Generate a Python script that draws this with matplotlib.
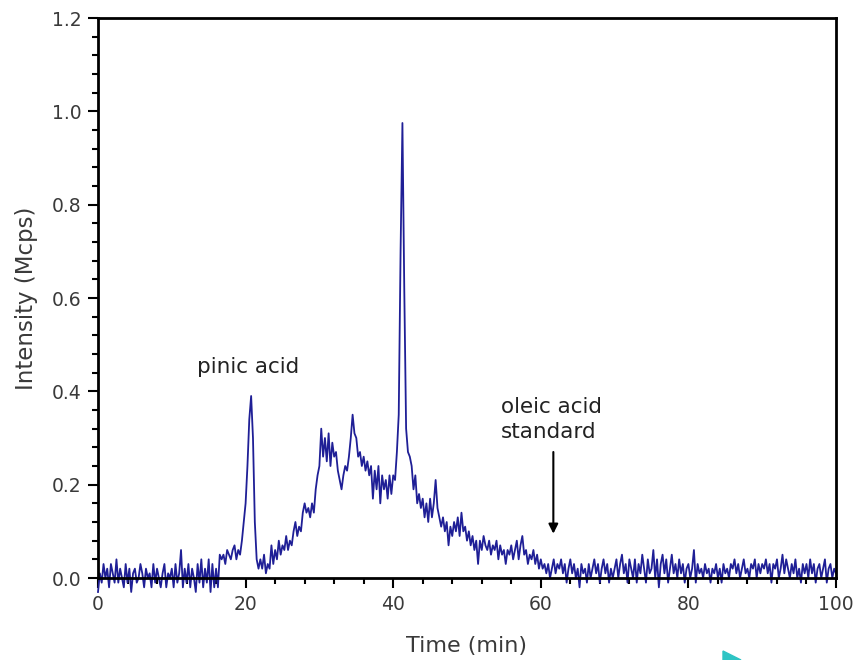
import numpy as np
import matplotlib
matplotlib.use("Agg")
import matplotlib.pyplot as plt
from matplotlib.ticker import AutoMinorLocator
from matplotlib.patches import Polygon

# ---------------------------------------------------------------------------
# Data (read off the chromatogram, sampled every 0.25 min)
# ---------------------------------------------------------------------------
time_step = 0.25

seg_00_10 = [-0.03, 0.01, -0.01, 0.03, 0.00, 0.02, -0.02, 0.03, 0.01, -0.01,
             0.04, -0.01, 0.02, 0.00, -0.02, 0.03, -0.01, 0.02, -0.03, 0.01,
             0.02, -0.01, 0.00, 0.03, 0.01, -0.02, 0.02, 0.00, 0.01, -0.02,
             0.03, -0.01, 0.02, 0.00, -0.02, 0.01, 0.03, -0.02, 0.01, 0.00]
seg_10_20 = [0.02, -0.02, 0.03, -0.01, 0.01, 0.06, -0.02, 0.02, -0.01, 0.03,
             -0.02, 0.02, 0.00, -0.03, 0.03, -0.01, 0.04, -0.02, 0.02, -0.01,
             0.04, -0.03, 0.03, -0.02, 0.02, -0.02, 0.05, 0.04, 0.05, 0.03,
             0.06, 0.05, 0.04, 0.06, 0.07, 0.04, 0.06, 0.05, 0.08, 0.12]
seg_20_30 = [0.16, 0.24, 0.34, 0.39, 0.30, 0.12, 0.04, 0.02, 0.04, 0.02,
             0.05, 0.01, 0.03, 0.02, 0.07, 0.03, 0.06, 0.04, 0.08, 0.05,
             0.07, 0.06, 0.09, 0.06, 0.08, 0.07, 0.10, 0.12, 0.09, 0.11,
             0.10, 0.14, 0.16, 0.14, 0.15, 0.13, 0.16, 0.14, 0.19, 0.22]
seg_30_40 = [0.24, 0.32, 0.26, 0.30, 0.25, 0.31, 0.24, 0.29, 0.26, 0.27,
             0.23, 0.21, 0.19, 0.22, 0.24, 0.23, 0.26, 0.30, 0.35, 0.31,
             0.30, 0.26, 0.27, 0.24, 0.26, 0.23, 0.25, 0.22, 0.24, 0.17,
             0.23, 0.19, 0.24, 0.16, 0.22, 0.19, 0.21, 0.17, 0.22, 0.18]
seg_40_50 = [0.22, 0.21, 0.27, 0.35, 0.70, 0.975, 0.62, 0.32, 0.27, 0.26,
             0.24, 0.19, 0.22, 0.16, 0.18, 0.15, 0.17, 0.13, 0.16, 0.12,
             0.17, 0.13, 0.16, 0.21, 0.15, 0.13, 0.11, 0.13, 0.10, 0.12,
             0.07, 0.11, 0.09, 0.12, 0.10, 0.13, 0.09, 0.14, 0.10, 0.11]
seg_50_60 = [0.08, 0.10, 0.07, 0.09, 0.06, 0.08, 0.03, 0.08, 0.06, 0.09,
             0.07, 0.06, 0.08, 0.05, 0.07, 0.06, 0.08, 0.04, 0.07, 0.05,
             0.06, 0.03, 0.06, 0.05, 0.07, 0.04, 0.06, 0.08, 0.04, 0.07,
             0.09, 0.05, 0.06, 0.03, 0.05, 0.04, 0.06, 0.03, 0.05, 0.02]
seg_60_70 = [0.04, 0.02, 0.03, 0.01, 0.03, 0.00, 0.02, 0.04, 0.01, 0.03,
             0.02, 0.04, 0.01, 0.03, -0.01, 0.02, 0.04, 0.01, 0.03, 0.00,
             0.02, -0.02, 0.03, 0.01, 0.02, -0.01, 0.03, 0.00, 0.02, 0.04,
             0.01, 0.03, -0.01, 0.02, 0.04, 0.01, 0.03, -0.01, 0.02, 0.00]
seg_70_80 = [0.02, 0.04, 0.00, 0.03, 0.05, 0.01, 0.03, -0.01, 0.04, 0.02,
             0.00, 0.04, -0.01, 0.03, 0.01, 0.05, 0.02, -0.01, 0.04, 0.01,
             0.02, 0.06, 0.00, 0.04, -0.02, 0.03, 0.05, 0.01, 0.04, -0.01,
             0.02, 0.05, 0.01, 0.03, 0.00, 0.04, 0.01, 0.03, -0.01, 0.02]
seg_80_90 = [0.03, 0.00, 0.02, 0.06, -0.01, 0.03, 0.01, 0.02, 0.00, 0.03,
             0.01, 0.02, -0.01, 0.02, 0.01, 0.03, 0.00, 0.02, -0.01, 0.03,
             0.01, 0.02, 0.00, 0.03, 0.02, 0.04, 0.01, 0.03, 0.00, 0.02,
             0.04, 0.01, 0.02, 0.00, 0.03, 0.02, 0.04, 0.00, 0.03, 0.01]
seg_90_100 = [0.03, 0.02, 0.04, 0.01, 0.03, -0.01, 0.03, 0.02, 0.04, 0.00,
              0.02, 0.05, 0.01, 0.04, 0.02, 0.00, 0.03, 0.01, 0.04, 0.00,
              0.02, -0.01, 0.03, 0.01, 0.03, 0.00, 0.04, 0.01, 0.03, -0.01,
              0.02, 0.03, 0.00, 0.02, 0.04, -0.01, 0.02, 0.03, 0.00, 0.02,
              0.01]

intensity = np.array(seg_00_10 + seg_10_20 + seg_20_30 + seg_30_40 + seg_40_50
                     + seg_50_60 + seg_60_70 + seg_70_80 + seg_80_90 + seg_90_100)
time_min = np.arange(len(intensity)) * time_step

x_ticks = [0, 20, 40, 60, 80, 100]
y_ticks = [0.0, 0.2, 0.4, 0.6, 0.8, 1.0, 1.2]

# ---------------------------------------------------------------------------
# Figure
# ---------------------------------------------------------------------------
W, H = 857, 660
fig = plt.figure(figsize=(W / 100, H / 100), dpi=100)
ax = fig.add_axes([98 / W, 1 - 578 / H, (836 - 98) / W, (578 - 18) / H])

ax.plot(time_min, intensity, color="#1f1f96", lw=1.3, clip_on=False)

ax.set_xlim(0, 100)
ax.set_ylim(0, 1.2)
ax.set_xticks(x_ticks)
ax.set_yticks(y_ticks)
ax.set_yticklabels([f"{v:.1f}" for v in y_ticks])
ax.xaxis.set_minor_locator(AutoMinorLocator(5))
ax.yaxis.set_minor_locator(AutoMinorLocator(5))

label_col = "#3a3a3a"
ax.tick_params(which="both", direction="out", width=1.5, colors="black",
               labelcolor=label_col, labelsize=13.5, top=False, right=False)
ax.tick_params(which="major", length=7, pad=5)
ax.tick_params(which="minor", length=4)
for sp in ax.spines.values():
    sp.set_linewidth(2)

ax.set_xlabel("Time (min)", fontsize=16, color=label_col, labelpad=16)
ax.set_ylabel("Intensity (Mcps)", fontsize=16.5, color=label_col, labelpad=10)

ax.text(20.4, 0.453, "pinic acid", fontsize=15.5, color="#222222",
        ha="center", va="center")
ax.text(54.6, 0.34, "oleic acid\nstandard", fontsize=15.5, color="#222222",
        ha="left", va="center", linespacing=1.3)
ax.annotate("", xy=(61.7, 0.095), xytext=(61.7, 0.27),
            arrowprops=dict(arrowstyle="-|>", color="black", lw=1.5,
                            mutation_scale=14, shrinkA=0, shrinkB=0))

# stray cyan marker at the bottom edge of the original image
tri = Polygon([(723 / W, 1 - 651 / H), (741 / W, 0), (723 / W, 0)],
              closed=True, transform=fig.transFigure, color="#2ec4c4")
fig.patches.append(tri)

fig.savefig("out.png", dpi=100)
